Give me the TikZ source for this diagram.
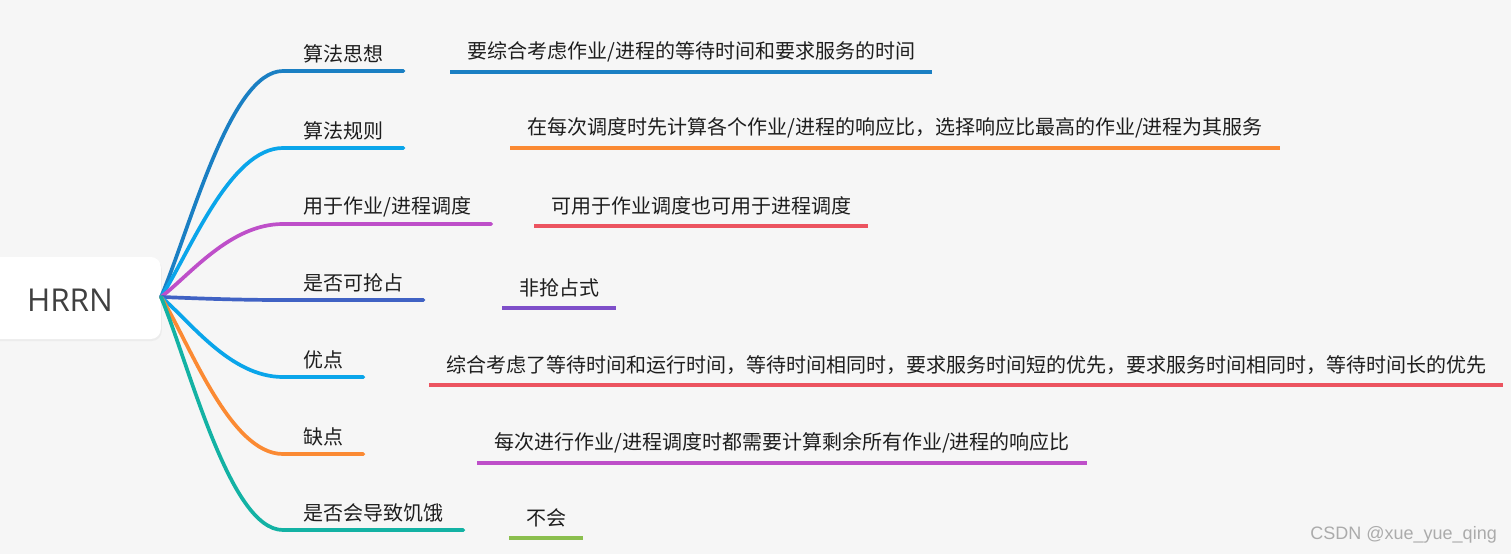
\documentclass[tikz,border=0pt]{standalone}
\usepackage{fontspec}
\newfontfamily\cjk{Noto Sans CJK SC}
\newfontfamily\rootfont{Open Sans}
\newfontfamily\wmfont{Liberation Sans}
\usetikzlibrary{shadows}
\definecolor{bgc}{HTML}{F6F6F6}
\definecolor{txt}{HTML}{1E1E1E}
\definecolor{cblueA}{HTML}{1A7FC3}
\definecolor{cblueB}{HTML}{0AA5EA}
\definecolor{cpurple}{HTML}{BE4FC9}
\definecolor{cindigo}{HTML}{4062C4}
\definecolor{corange}{HTML}{FB8A33}
\definecolor{cteal}{HTML}{13B2A4}
\definecolor{cred}{HTML}{EC5460}
\definecolor{cviolet}{HTML}{7E4FC9}
\definecolor{cgreen}{HTML}{8BBF4E}
\tikzset{
  branchtext/.style={anchor=south west, inner xsep=20pt, inner ysep=0pt, minimum height=34pt,
    font=\cjk\fontsize{20}{24}\selectfont, text=txt},
  childtext/.style={anchor=south west, inner xsep=17pt, inner ysep=0pt, minimum height=40pt,
    font=\cjk\fontsize{20}{24}\selectfont, text=txt},
  branchline/.style={line width=3.7pt, line cap=round},
  underline/.style={line width=3.2pt},
}
\begin{document}
\begin{tikzpicture}[x=1pt,y=-1pt]
\useasboundingbox (0,0) rectangle (1511,554);
\fill[bgc] (0,0) rectangle (1511,554);
% root
\node[fill=white, rounded corners=10pt, minimum width=172pt, minimum height=82pt,
  drop shadow={opacity=0.08, shadow xshift=1pt, shadow yshift=-2pt},
  anchor=east, inner sep=0pt] (root) at (161,298) {};
\node[font=\rootfont\fontsize{31.5}{36}\selectfont, text=txt!85!white] (roottext) at (70,300) {HRRN};
% branches
\node[branchtext] (b1) at (283,71) {算法思想};
\node[branchtext] (b2) at (283,148) {算法规则};
\node[branchtext] (b3) at (283,224) {用于作业/进程调度};
\node[branchtext] (b4) at (283,300) {是否可抢占};
\node[branchtext] (b5) at (283,377) {优点};
\node[branchtext] (b6) at (283,454) {缺点};
\node[branchtext] (b7) at (283,530) {是否会导致饥饿};
\coordinate (o) at (161,297);
\draw[branchline, cblueA] (o) .. controls +(29,-68) and +(-53,0) .. (b1.south west) -- (b1.south east);
\draw[branchline, cblueB] (o) .. controls +(29,-45) and +(-53,0) .. (b2.south west) -- (b2.south east);
\draw[branchline, cpurple] (o) .. controls +(29,-22) and +(-53,0) .. (b3.south west) -- (b3.south east);
\draw[branchline, cindigo] (o) .. controls +(29,1) and +(-53,0) .. (b4.south west) -- (b4.south east);
\draw[branchline, cblueB] (o) .. controls +(29,24) and +(-53,0) .. (b5.south west) -- (b5.south east);
\draw[branchline, corange] (o) .. controls +(29,47) and +(-53,0) .. (b6.south west) -- (b6.south east);
\draw[branchline, cteal] (o) .. controls +(29,70) and +(-53,0) .. (b7.south west) -- (b7.south east);
% children
\node[childtext] (c1) at (450,72) {要综合考虑作业/进程的等待时间和要求服务的时间};
\node[childtext] (c2) at (510,148) {在每次调度时先计算各个作业/进程的响应比，选择响应比最高的作业/进程为其服务};
\node[childtext] (c3) at (534,226) {可用于作业调度也可用于进程调度};
\node[childtext] (c4) at (502,308) {非抢占式};
\node[childtext] (c5) at (429,385) {综合考虑了等待时间和运行时间，等待时间相同时，要求服务时间短的优先，要求服务时间相同时，等待时间长的优先};
\node[childtext] (c6) at (477,463) {每次进行作业/进程调度时都需要计算剩余所有作业/进程的响应比};
\node[childtext] (c7) at (509,538) {不会};
\draw[underline, cblueA] (c1.south west) -- (c1.south east);
\draw[underline, corange] (c2.south west) -- (c2.south east);
\draw[underline, cred] (c3.south west) -- (c3.south east);
\draw[underline, cviolet] (c4.south west) -- (c4.south east);
\draw[underline, cred] (c5.south west) -- (c5.south east);
\draw[underline, cpurple] (c6.south west) -- (c6.south east);
\draw[underline, cgreen] (c7.south west) -- (c7.south east);
% watermark
\node[anchor=east, font=\wmfont\fontsize{18}{20}\selectfont, text=black!33, inner sep=0pt] (wm) at (1497,535) {CSDN @xue\_yue\_qing};
\end{tikzpicture}
\end{document}
